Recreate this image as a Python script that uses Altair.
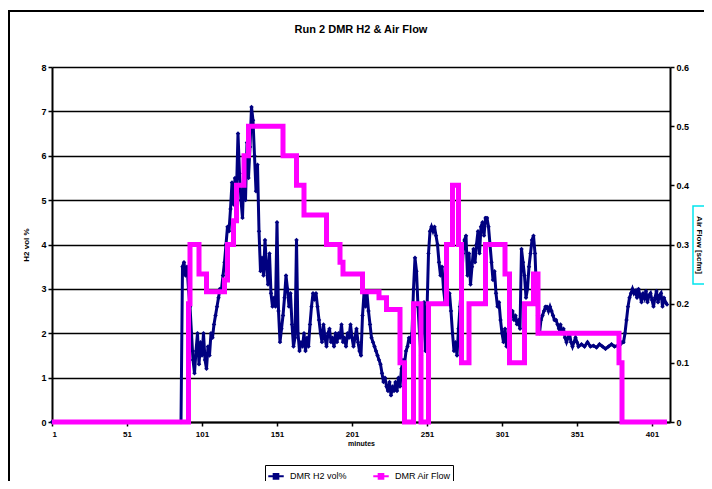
import altair as alt
import pandas as pd

title_text = "Run 2 DMR H2 & Air Flow"
series_names = ["DMR H2 vol%", "DMR Air Flow"]
series_colors = ["#000080", "#FF00FF"]

x_ticks = [1, 51, 101, 151, 201, 251, 301, 351, 401]
h2_ticks = [0, 1, 2, 3, 4, 5, 6, 7, 8]
air_ticks = [0, 0.1, 0.2, 0.3, 0.4, 0.5, 0.6]

# H2 vol% : zero period
h2_zero_minutes = [1, 87]
h2_zero_values = [0, 0]

# H2 vol% : samples 88..352 (one per minute)
h2_seg1_start = 88
h2_seg1_values = [
    3.5, 3.6, 3.3, 3.5, 3.0, 2.6, 2.0, 1.4, 1.1, 1.6,
    2.0, 1.3, 1.8, 1.5, 2.0, 1.4, 1.2, 1.7, 1.5, 2.0,
    1.9, 2.2, 2.4, 2.6, 2.8, 3.0, 3.0, 3.3, 3.6, 4.0,
    4.4, 4.3, 4.8, 5.4, 4.9, 5.5, 5.2, 6.5, 5.6, 5.0,
    4.6, 5.7, 5.0, 6.3, 5.5, 6.2, 7.1, 6.8, 6.0, 5.2,
    5.8, 4.3, 3.4, 3.7, 3.3, 4.1, 3.5, 3.1, 3.8, 2.9,
    2.6, 2.8, 2.6, 4.5, 2.5, 1.8, 2.1, 2.4, 2.8, 3.3,
    3.0, 2.6, 2.9, 2.2, 1.7, 1.9, 4.1, 2.0, 1.6, 1.8,
    1.7, 2.0, 1.6, 1.9, 1.7, 2.2, 2.6, 2.9, 2.8, 2.9,
    2.6, 2.3, 2.0, 1.8, 2.2, 1.9, 1.7, 2.0, 2.1, 1.8,
    1.9, 1.7, 2.0, 1.8, 2.0, 1.9, 2.2, 1.8, 1.9, 1.7,
    2.0, 1.9, 2.2, 1.9, 1.7, 1.9, 2.1, 1.8, 1.6, 1.5,
    2.4, 2.9, 2.6, 2.9, 2.5, 2.2, 1.9, 1.8, 1.7, 1.6,
    1.5, 1.4, 1.3, 1.1, 0.9, 1.0, 0.8, 0.7, 0.9, 0.6,
    0.8, 0.7, 0.9, 0.7, 1.0, 0.8, 1.2, 1.4, 1.3, 1.6,
    1.7, 1.9, 1.8, 2.0, 3.0, 3.7, 3.4, 2.6, 2.0, 1.5,
    2.3, 2.7, 1.6, 2.5, 3.8, 4.3, 4.4, 4.3, 4.4, 4.2,
    4.0, 3.6, 3.3, 3.5, 3.0, 2.7, 3.2, 2.8, 2.9, 2.5,
    2.0, 1.6, 1.8, 1.5, 2.1, 2.6, 3.1, 3.8, 4.1, 4.2,
    3.3, 3.8, 3.1, 3.5, 3.9, 3.6, 4.0, 4.3, 3.8, 4.4,
    4.5, 4.2, 4.6, 4.6, 4.4, 4.0, 3.6, 3.2, 3.4, 2.9,
    2.6, 2.7, 2.3, 2.0, 1.8, 2.1, 1.7, 1.8, 2.2, 2.4,
    2.5, 2.3, 2.4, 2.2, 2.3, 2.1, 3.9, 3.6, 3.3, 2.8,
    3.0, 3.5, 3.8, 4.1, 4.2, 3.8, 2.9, 2.4, 2.0, 2.3,
    2.4, 2.5, 2.6, 2.6, 2.5, 2.6, 2.5, 2.4, 2.3, 2.3,
    2.2, 2.1, 2.2, 2.0, 2.1, 1.9, 1.8, 1.9, 2.0, 1.8,
    1.7, 1.8, 1.9, 1.8, 1.7,
]

# H2 vol% : flat stretch, every second minute 354..380
h2_seg2_minutes = list(range(354, 381, 2))
h2_seg2_values = [1.75, 1.7, 1.8, 1.7, 1.72, 1.68, 1.75, 1.7, 1.65, 1.7,
                  1.75, 1.7, 1.72, 1.75]

# H2 vol% : samples 381..411
h2_seg3_start = 381
h2_seg3_values = [
    1.8, 1.8, 2.0, 2.3, 2.6, 2.8, 2.9, 3.0, 2.9, 2.95,
    2.8, 3.0, 2.85, 2.7, 2.9, 2.8, 2.95, 2.7, 2.85, 2.9,
    2.75, 2.6, 2.8, 2.95, 2.7, 2.85, 2.9, 2.6, 2.8, 2.7,
    2.65,
]

# Air flow (step changes): minute where the new value starts
air_step_minutes = [1, 92, 93, 99, 104, 116, 118, 122, 124, 129, 132, 155, 164,
                    169, 184, 193, 195, 208, 219, 224, 233, 236, 242, 247, 252,
                    264, 268, 272, 274, 279, 290, 303, 306, 316, 322, 325, 379,
                    381, 411]
air_step_values = [0, 0.20, 0.30, 0.25, 0.22, 0.24, 0.30, 0.34, 0.40, 0.45,
                   0.50, 0.45, 0.40, 0.35, 0.30, 0.27, 0.25, 0.22, 0.21, 0.19,
                   0.10, 0, 0.20, 0, 0.20, 0.30, 0.40, 0.30, 0.10, 0.20, 0.30,
                   0.25, 0.10, 0.20, 0.25, 0.15, 0.10, 0, 0]

# ---- build tables ----
h2_minutes = (list(h2_zero_minutes)
              + [h2_seg1_start + k for k in range(len(h2_seg1_values))]
              + list(h2_seg2_minutes)
              + [h2_seg3_start + k for k in range(len(h2_seg3_values))])
h2_values = h2_zero_values + h2_seg1_values + h2_seg2_values[:len(h2_seg2_minutes)] + h2_seg3_values
n = min(len(h2_minutes), len(h2_values))
df_h2 = pd.DataFrame({"minute": h2_minutes[:n], "value": h2_values[:n],
                      "series": series_names[0]})
df_air = pd.DataFrame({"minute": air_step_minutes, "value": air_step_values,
                       "series": series_names[1]})

FONT = "Liberation Sans"

x_enc = alt.X("minute:Q",
              scale=alt.Scale(domain=[1, 413], nice=False, zero=False),
              axis=alt.Axis(values=x_ticks, title="minutes", grid=False,
                            labelFontSize=8, titleFontSize=7, titlePadding=1,
                            labelPadding=4, tickSize=4))

color_enc = alt.Color("series:N",
                      scale=alt.Scale(domain=series_names, range=series_colors),
                      legend=alt.Legend(
                          title=None, orient="none", legendX=213, legendY=398,
                          direction="horizontal",
                          symbolType="M-1,0L1,0M-0.3,-0.3L0.3,-0.3L0.3,0.3L-0.3,0.3Z",
                          symbolSize=240, symbolStrokeWidth=2,
                          labelFont=FONT, labelFontSize=9, labelColor="black",
                          labelOffset=5, labelLimit=120,
                          strokeColor="black", padding=2, fillColor="white",
                          columnPadding=22, rowPadding=0))

y_h2 = alt.Y("value:Q",
             scale=alt.Scale(domain=[0, 8], nice=False),
             axis=alt.Axis(orient="left", values=h2_ticks, title="H2 vol %",
                           grid=True, gridColor="black", gridWidth=1.5,
                           titlePadding=10, titleFontSize=8, labelFontSize=9,
                           format="d", tickSize=4))

y_air = alt.Y("value:Q",
              scale=alt.Scale(domain=[0, 0.6], nice=False),
              axis=alt.Axis(orient="right", values=air_ticks, title="Air Flow [scfm]",
                            grid=False, titlePadding=6, titleFontSize=8,
                            labelFontSize=9, tickSize=4,
                            labelExpr="datum.value == 0 ? '0' : format(datum.value, '.1f')"))

h2_line = alt.Chart(df_h2).mark_line(strokeWidth=3).encode(
    x=x_enc, y=y_h2, color=color_enc)
h2_pts = alt.Chart(df_h2).mark_point(shape="diamond", filled=True, size=20, opacity=1).encode(
    x=x_enc, y=y_h2, color=alt.Color("series:N",
                                     scale=alt.Scale(domain=series_names, range=series_colors),
                                     legend=None))
h2_layer = alt.layer(h2_line, h2_pts)

air_layer = alt.Chart(df_air).mark_line(strokeWidth=5, interpolate="step-after").encode(
    x=x_enc, y=y_air, color=color_enc)

frame_df = pd.DataFrame({"label": [title_text]})
outer_frame = alt.Chart(frame_df).mark_rect(fill=None, stroke="black", strokeWidth=2).encode(
    x=alt.value(-43), x2=alt.value(720), y=alt.value(-56), y2=alt.value(480))
title_box = alt.Chart(frame_df).mark_rect(fill=None, stroke="#00E5EE", strokeWidth=1.5).encode(
    x=alt.value(641), x2=alt.value(656), y=alt.value(139), y2=alt.value(217))
title_mark = alt.Chart(frame_df).mark_text(
    font=FONT, fontSize=11, fontWeight="bold", color="black",
    align="center", baseline="middle").encode(
    text="label:N", x=alt.value(309), y=alt.value(-37))

chart = alt.layer(outer_frame, h2_layer, air_layer, title_box, title_mark).resolve_scale(
    y="independent"
).properties(
    width=618, height=355,
    autosize=alt.AutoSizeParams(type="none"),
    padding={"left": 44, "top": 59, "right": 34, "bottom": 59},
    background="white",
).configure_view(stroke=None).configure_axis(
    labelFont=FONT, titleFont=FONT, labelFontWeight="bold", titleFontWeight="bold",
    labelColor="black", titleColor="black", domainColor="black", domainWidth=2,
    tickColor="black", tickWidth=1.5,
)

chart.save("out.html", embed_options={"renderer": "svg", "actions": False})
